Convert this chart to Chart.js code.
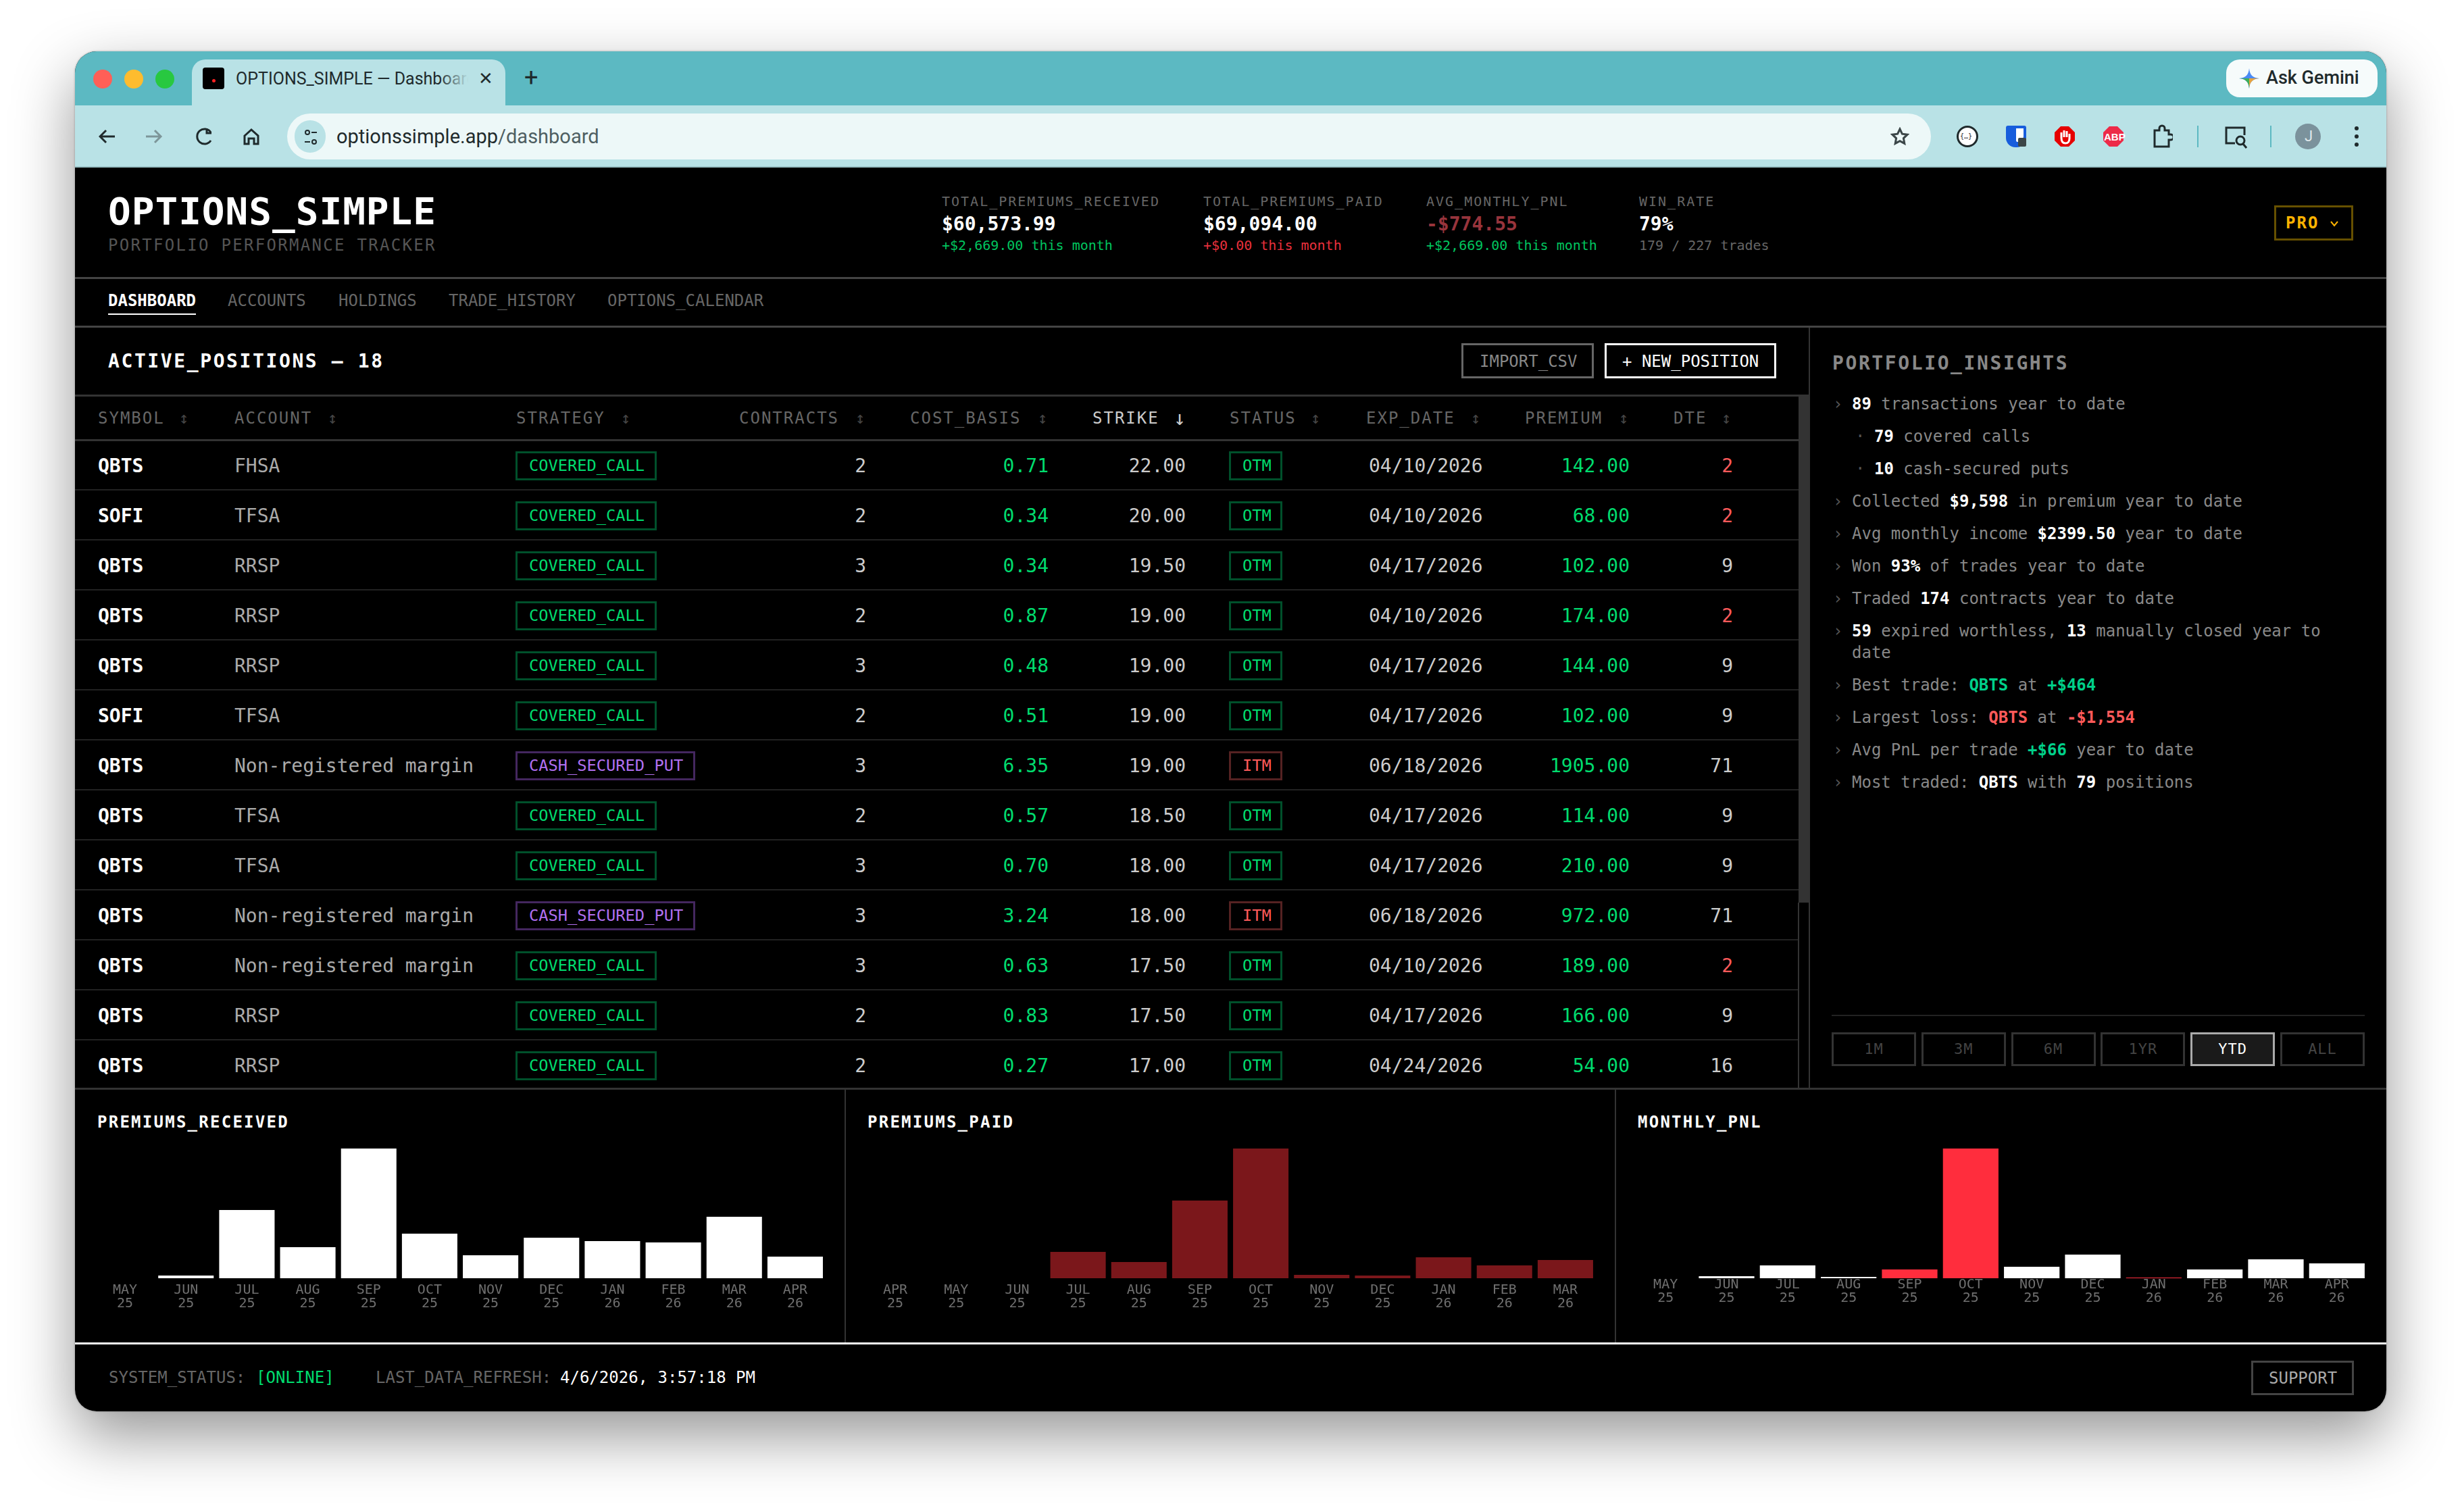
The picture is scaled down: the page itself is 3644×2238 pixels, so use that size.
<!DOCTYPE html>
<html>
<head>
<meta charset="utf-8">
<title>OPTIONS_SIMPLE</title>
<script src="https://cdn.jsdelivr.net/npm/chart.js@4"></script>
<style>
  html, body { margin: 0; width: 3644px; height: 2238px; background: #fff; overflow: hidden; }
  .win { position: absolute; left: 111px; top: 76px; width: 3421px; height: 2013px; border-radius: 32px; overflow: hidden; background: #000; }
  .shadow { position: absolute; left: 111px; top: 76px; width: 3421px; height: 2013px; border-radius: 32px; box-shadow: 0 36px 90px rgba(0,0,0,.42), 0 0 3px rgba(0,0,0,.3); }
  .page { position: absolute; left: -111px; top: -76px; width: 3644px; height: 2238px; font-family: "DejaVu Sans Mono", monospace; color: #fff; }
  .box { position: absolute; box-sizing: border-box; }
  .t { position: absolute; white-space: pre; line-height: 1; transform: translateY(-50%); }
  .r { transform: translate(-100%, -50%); }
  .ui { font-family: Roboto, "Liberation Sans", sans-serif; color: #1f2a2c; }
  .ins { font-size: 24px; color: #888; }
  .ins .w { color: #fff; font-weight: 700; } .ins .gi { color: #00d08a; font-weight: 700; } .ins .ri { color: #ff5a5a; font-weight: 700; }
  .stat-l { font-size: 20px; letter-spacing: 2px; color: #666; }
  .stat-v { font-size: 28px; font-weight: 700; }
  .stat-s { font-size: 20px; }
  .nav { font-size: 24px; color: #666; top: 445px; }
  .th { font-size: 24px; letter-spacing: 2px; color: #666; top: 619px; }
  .sort { font-size: 24px; color: #444; top: 619px; }
  .td { font-size: 28px; color: #ccc; }
  .td.w { color: #fff; font-weight: 700; }
  .td.g { color: #00dc6e; }
  .td.rd { color: #ff5a5a; }
  .badge { position: absolute; box-sizing: border-box; height: 43px; border: 3px solid; font-size: 23.7px; line-height: 37px; padding: 0 15px 0 17px; white-space: pre; }
  .per { position: absolute; box-sizing: border-box; top: 1528px; height: 50px; width: 125px; border: 3px solid #333; color: #444; font-size: 22px; letter-spacing: 1px; line-height: 44px; text-align: center; }
  .ptitle { font-size: 24px; font-weight: 700; letter-spacing: 2.25px; top: 1661px; }
  canvas { position: absolute; }
  svg { position: absolute; }
</style>
</head>
<body>
<div class="shadow"></div>
<div class="win"><div class="page" id="page">

  <!-- browser chrome -->
  <div class="box" style="left:111px;top:76px;width:3421px;height:80px;background:#5cb9c2"></div>
  <div class="box" style="left:111px;top:156px;width:3421px;height:92px;background:#b9e2e6;border-bottom:2px solid #9cc4c8"></div>
  <div class="box" style="left:284px;top:88px;width:464px;height:68px;background:#b9e2e6;border-radius:20px 20px 0 0"></div>
  <div class="box" style="left:138px;top:103px;width:28px;height:28px;border-radius:50%;background:#ff5f57"></div>
  <div class="box" style="left:184px;top:103px;width:28px;height:28px;border-radius:50%;background:#febc2e"></div>
  <div class="box" style="left:230px;top:103px;width:28px;height:28px;border-radius:50%;background:#28c840"></div>
  <div class="box" style="left:300px;top:100px;width:32px;height:32px;background:#000;border-radius:4px"></div>
  <div class="box" style="left:314px;top:117px;width:5px;height:5px;background:#f22;border-radius:50%"></div>
  <div class="t ui" style="left:349px;top:116px;font-size:25px">OPTIONS_SIMPLE — Dashboard</div>
  <div class="box" style="left:650px;top:96px;width:62px;height:44px;background:linear-gradient(90deg, rgba(185,226,230,0), #b9e2e6 70%)"></div>
  <div class="t ui" style="left:708px;top:116px;font-size:26px">✕</div>
  <div class="t ui" style="left:776px;top:115px;font-size:36px">+</div>
  <div class="box" style="left:3295px;top:88px;width:224px;height:56px;background:#f6fbfb;border-radius:20px"></div>
  <svg style="left:3313px;top:100px" width="32" height="32" viewBox="0 0 32 32"><path d="M16 1 C17 11 21 15 31 16 C21 17 17 21 16 31 C15 21 11 17 1 16 C11 15 15 11 16 1Z" fill="#4a8af4"/><path d="M16 16 L31 16 C21 17 17 21 16 31Z" fill="#e8a33d"/><path d="M16 16 L16 31 C15 21 11 17 1 16Z" fill="#3fae5a"/></svg>
  <div class="t ui" style="left:3354px;top:115px;font-size:27px;font-weight:500">Ask Gemini</div>
  <div class="box" style="left:425px;top:168px;width:2433px;height:68px;background:#edf8f8;border-radius:34px"></div>
  <div class="box" style="left:436px;top:178px;width:46px;height:48px;background:#b9e2e6;border-radius:24px"></div>
  <svg style="left:146px;top:186px" width="240" height="32" viewBox="0 0 240 32" fill="none" stroke="#1f2a2c" stroke-width="3">
    <path d="M24 16H2M11 7L2 16L11 25"/>
    <path d="M70 16H92M83 7L92 16L83 25" stroke="#7d9699"/>
    <path d="M166 10A11 11 0 1 0 166 22M160 4V11H167"/>
    <path d="M216 15L226 6L236 15V27H230V19H222V27H216Z"/>
  </svg>
  <svg style="left:450px;top:190px" width="20" height="26" viewBox="0 0 20 26" fill="none" stroke="#1f2a2c" stroke-width="2"><circle cx="5" cy="6" r="3"/><path d="M11 6H19M1 20H9"/><circle cx="15" cy="20" r="3"/></svg>
  <div class="t ui" style="left:498px;top:202px;font-size:29px">optionssimple.app<span style="color:#4f5f62">/dashboard</span></div>
  <svg style="left:2798px;top:188px" width="28" height="28" viewBox="0 0 28 28" fill="none" stroke="#3b4648" stroke-width="3"><path d="M14 3L17.4 10.2L25 11.2L19.4 16.6L20.8 24.4L14 20.6L7.2 24.4L8.6 16.6L3 11.2L10.6 10.2Z"/></svg>
  <!-- extension icons -->
  <div class="box" style="left:2896px;top:186px;width:32px;height:32px;border-radius:50%;border:3px solid #1f2a2c;background:#fff"></div>
  <div class="t" style="left:2901px;top:202px;font-size:10px;color:#1f2a2c">{…}</div>
  <div class="box" style="left:2969px;top:186px;width:30px;height:32px;background:#175ddc;border-radius:3px 3px 14px 14px"></div>
  <div class="box" style="left:2984px;top:190px;width:11px;height:20px;background:#fff;border-radius:0 0 8px 2px"></div>
  <div class="box" style="left:2987px;top:204px;width:12px;height:13px;background:#3b4648;border-radius:2px"></div>
  <svg style="left:3040px;top:186px" width="32" height="32" viewBox="0 0 32 32"><path d="M10 1H22L31 10V22L22 31H10L1 22V10Z" fill="#e60000"/><path d="M11 18V10M15 17V7M19 17V8M23 19V12M11 18C11 24 14 26 17 26C21 26 23 23 23 19" fill="none" stroke="#fff" stroke-width="3"/></svg>
  <svg style="left:3112px;top:186px" width="32" height="32" viewBox="0 0 32 32"><path d="M10 1H22L31 10V22L22 31H10L1 22V10Z" fill="#ed2a48"/></svg>
  <div class="t" style="left:3114px;top:202px;font-family:'Liberation Sans';font-size:15px;font-weight:700;color:#fff">ABP</div>
  <svg style="left:3186px;top:184px" width="30" height="36" viewBox="0 0 30 36" fill="none" stroke="#1f2a2c" stroke-width="3"><path d="M3 9H10V6A4 4 0 0 1 18 6V9H24V15H27A3 3 0 0 1 27 23H24V33H3Z"/></svg>
  <div class="box" style="left:3252px;top:186px;width:2px;height:32px;background:#5cb9c2"></div>
  <svg style="left:3292px;top:186px" width="34" height="34" viewBox="0 0 34 34" fill="none" stroke="#1f2a2c" stroke-width="3"><path d="M16 26H3V3H30V14"/><circle cx="24" cy="22" r="6"/><path d="M28 27L33 33"/></svg>
  <div class="box" style="left:3360px;top:186px;width:2px;height:32px;background:#5cb9c2"></div>
  <div class="box" style="left:3397px;top:183px;width:38px;height:38px;border-radius:50%;background:#7b929c"></div>
  <div class="t ui" style="left:3411px;top:202px;font-size:22px;color:#dfe8ea">J</div>
  <svg style="left:3484px;top:186px" width="8" height="32" viewBox="0 0 8 32" fill="#1f2a2c"><circle cx="4" cy="4" r="3"/><circle cx="4" cy="16" r="3"/><circle cx="4" cy="28" r="3"/></svg>

  <!-- app header -->
  <div class="t" style="left:160px;top:313px;font-size:56px;font-weight:700;letter-spacing:1px">OPTIONS_SIMPLE</div>
  <div class="t" style="left:160px;top:363px;font-size:24px;letter-spacing:2.3px;color:#555">PORTFOLIO PERFORMANCE TRACKER</div>

  <div class="t stat-l" style="left:1394px;top:298px">TOTAL_PREMIUMS_RECEIVED</div>
  <div class="t stat-v" style="left:1394px;top:332px">$60,573.99</div>
  <div class="t stat-s" style="left:1394px;top:363px;color:#00c45f">+$2,669.00 this month</div>

  <div class="t stat-l" style="left:1781px;top:298px">TOTAL_PREMIUMS_PAID</div>
  <div class="t stat-v" style="left:1781px;top:332px">$69,094.00</div>
  <div class="t stat-s" style="left:1781px;top:363px;color:#e8303c">+$0.00 this month</div>

  <div class="t stat-l" style="left:2111px;top:298px">AVG_MONTHLY_PNL</div>
  <div class="t stat-v" style="left:2111px;top:332px;color:#98343c">-$774.55</div>
  <div class="t stat-s" style="left:2111px;top:363px;color:#00c45f">+$2,669.00 this month</div>

  <div class="t stat-l" style="left:2426px;top:298px">WIN_RATE</div>
  <div class="t stat-v" style="left:2426px;top:332px">79%</div>
  <div class="t stat-s" style="left:2426px;top:363px;color:#666">179 / 227 trades</div>

  <div class="box" style="left:3366px;top:304px;width:117px;height:52px;border:3px solid #665000"></div>
  <div class="t" style="left:3383px;top:330px;font-size:24px;font-weight:700;letter-spacing:2px;color:#ffb300">PRO</div>
  <svg style="left:3449px;top:326px" width="12" height="10" viewBox="0 0 12 10" fill="none" stroke="#ffb300" stroke-width="2"><path d="M1 2L6 8L11 2"/></svg>

  <!-- nav -->
  <div class="box" style="left:111px;top:410px;width:3421px;height:3px;background:#444"></div>
  <div class="t nav" style="left:160px;color:#fff;font-weight:700">DASHBOARD</div>
  <div class="t nav" style="left:337px">ACCOUNTS</div>
  <div class="t nav" style="left:501px">HOLDINGS</div>
  <div class="t nav" style="left:664px">TRADE_HISTORY</div>
  <div class="t nav" style="left:899px">OPTIONS_CALENDAR</div>
  <div class="box" style="left:160px;top:464px;width:130px;height:2px;background:#fff"></div>
  <div class="box" style="left:111px;top:482px;width:3421px;height:3px;background:#444"></div>

  <!-- positions head -->
  <div class="t" style="left:160px;top:535px;font-size:28px;font-weight:700;letter-spacing:2.6px">ACTIVE_POSITIONS — 18</div>
  <div class="box" style="left:2163px;top:508px;width:196px;height:52px;border:3px solid #666"></div>
  <div class="t" style="left:2190px;top:535px;font-size:24px;color:#888">IMPORT_CSV</div>
  <div class="box" style="left:2375px;top:508px;width:254px;height:52px;border:3px solid #fff"></div>
  <div class="t" style="left:2401px;top:535px;font-size:24px;color:#fff">+ NEW_POSITION</div>
  <div class="box" style="left:111px;top:584px;width:2567px;height:3px;background:#333"></div>

  <div class="t th" style="left:145px">SYMBOL</div><div class="t sort" style="left:265px">↕</div>
  <div class="t th" style="left:347px">ACCOUNT</div><div class="t sort" style="left:485px">↕</div>
  <div class="t th" style="left:764px">STRATEGY</div><div class="t sort" style="left:919px">↕</div>
  <div class="t th" style="left:1094px">CONTRACTS</div><div class="t sort" style="left:1266px">↕</div>
  <div class="t th" style="left:1347px">COST_BASIS</div><div class="t sort" style="left:1536px">↕</div>
  <div class="t th" style="left:1617px;color:#ccc">STRIKE</div><div class="t sort" style="left:1737px;color:#ccc;font-size:30px">↓</div>
  <div class="t th" style="left:1820px">STATUS</div><div class="t sort" style="left:1940px">↕</div>
  <div class="t th" style="left:2022px">EXP_DATE</div><div class="t sort" style="left:2177px">↕</div>
  <div class="t th" style="left:2257px">PREMIUM</div><div class="t sort" style="left:2396px">↕</div>
  <div class="t th" style="left:2477px">DTE</div><div class="t sort" style="left:2548px">↕</div>
  <div class="box" style="left:111px;top:650px;width:2551px;height:3px;background:#333"></div>

  <div class="box" id="rows" style="left:0;top:653px;width:2662px;height:958px;overflow:hidden"></div>

  <!-- scrollbar -->
  <div class="box" style="left:2662px;top:585px;width:17px;height:751px;background:#333"></div>
  <div class="box" style="left:2661px;top:1336px;width:2px;height:275px;background:#333"></div>
  <div class="box" style="left:2677px;top:485px;width:2px;height:1126px;background:#333"></div>

  <!-- insights -->
  <div class="t" style="left:2712px;top:538px;font-size:28px;font-weight:700;letter-spacing:2.6px;color:#888">PORTFOLIO_INSIGHTS</div>
  <div id="insights"></div>
  <div class="box" style="left:2711px;top:1502px;width:789px;height:2px;background:#222"></div>
  <div id="periods"></div>

  <!-- bottom panels -->
  <div class="box" style="left:111px;top:1610px;width:3421px;height:3px;background:#333"></div>
  <div class="box" style="left:1250px;top:1613px;width:2px;height:375px;background:#333"></div>
  <div class="box" style="left:2390px;top:1613px;width:2px;height:375px;background:#333"></div>
  <div class="t ptitle" style="left:144px">PREMIUMS_RECEIVED</div>
  <div class="t ptitle" style="left:1284px">PREMIUMS_PAID</div>
  <div class="t ptitle" style="left:2424px">MONTHLY_PNL</div>
  <canvas id="received-chart" width="1082" height="248" style="left:140px;top:1700px"></canvas>
  <canvas id="paid-chart" width="1082" height="248" style="left:1280px;top:1700px"></canvas>
  <canvas id="pnl-chart" width="1084" height="232" style="left:2420px;top:1700px"></canvas>

  <!-- footer -->
  <div class="box" style="left:111px;top:1987px;width:3421px;height:3px;background:#fff"></div>
  <div class="t" style="left:161px;top:2039px;font-size:24px;color:#666">SYSTEM_STATUS:</div>
  <div class="t" style="left:379px;top:2039px;font-size:24px;color:#00dc6e">[ONLINE]</div>
  <div class="t" style="left:556px;top:2039px;font-size:24px;color:#666">LAST_DATA_REFRESH:</div>
  <div class="t" style="left:829px;top:2039px;font-size:24px;color:#fff">4/6/2026, 3:57:18 PM</div>
  <div class="box" style="left:3332px;top:2014px;width:152px;height:51px;border:3px solid #444"></div>
  <div class="t" style="left:3358px;top:2040px;font-size:24px;color:#aaa">SUPPORT</div>
</div></div>

<script>
// chart data
const receivedMonths = ['MAY 25', 'JUN 25', 'JUL 25', 'AUG 25', 'SEP 25', 'OCT 25', 'NOV 25', 'DEC 25', 'JAN 26', 'FEB 26', 'MAR 26', 'APR 26'];
const receivedValues = [0, 334, 8423, 3836, 16013, 5504, 2836, 5004, 4587, 4420, 7589, 2669];
const paidMonths = ['APR 25', 'MAY 25', 'JUN 25', 'JUL 25', 'AUG 25', 'SEP 25', 'OCT 25', 'NOV 25', 'DEC 25', 'JAN 26', 'FEB 26', 'MAR 26'];
const paidValues = [0, 0, 0, 5910, 3640, 17420, 29090, 760, 610, 4700, 2880, 4090];
const pnlMonths = ['MAY 25', 'JUN 25', 'JUL 25', 'AUG 25', 'SEP 25', 'OCT 25', 'NOV 25', 'DEC 25', 'JAN 26', 'FEB 26', 'MAR 26', 'APR 26'];
const pnlValues = [0, 363, 2300, 242, -1575, -23270, 2060, 4240, -121, 1575, 3390, 2669];

// table data
const symbols = ['QBTS', 'SOFI', 'QBTS', 'QBTS', 'QBTS', 'SOFI', 'QBTS', 'QBTS', 'QBTS', 'QBTS', 'QBTS', 'QBTS', 'QBTS'];
const accounts = ['FHSA', 'TFSA', 'RRSP', 'RRSP', 'RRSP', 'TFSA', 'Non-registered margin', 'TFSA', 'TFSA', 'Non-registered margin', 'Non-registered margin', 'RRSP', 'RRSP'];
const strategies = ['COVERED_CALL', 'COVERED_CALL', 'COVERED_CALL', 'COVERED_CALL', 'COVERED_CALL', 'COVERED_CALL', 'CASH_SECURED_PUT', 'COVERED_CALL', 'COVERED_CALL', 'CASH_SECURED_PUT', 'COVERED_CALL', 'COVERED_CALL', 'COVERED_CALL'];
const contracts = [2, 2, 3, 2, 3, 2, 3, 2, 3, 3, 3, 2, 2];
const costBasis = ['0.71', '0.34', '0.34', '0.87', '0.48', '0.51', '6.35', '0.57', '0.70', '3.24', '0.63', '0.83', '0.27'];
const strikes = ['22.00', '20.00', '19.50', '19.00', '19.00', '19.00', '19.00', '18.50', '18.00', '18.00', '17.50', '17.50', '17.00'];
const statuses = ['OTM', 'OTM', 'OTM', 'OTM', 'OTM', 'OTM', 'ITM', 'OTM', 'OTM', 'ITM', 'OTM', 'OTM', 'OTM'];
const expDates = ['04/10/2026', '04/10/2026', '04/17/2026', '04/10/2026', '04/17/2026', '04/17/2026', '06/18/2026', '04/17/2026', '04/17/2026', '06/18/2026', '04/10/2026', '04/17/2026', '04/24/2026'];
const premiums = ['142.00', '68.00', '102.00', '174.00', '144.00', '102.00', '1905.00', '114.00', '210.00', '972.00', '189.00', '166.00', '54.00'];
const dte = [2, 2, 9, 2, 9, 9, 71, 9, 9, 71, 2, 9, 16];

const insightLines = [
  '<b class="w">89</b> transactions year to date',
  '<b class="w">79</b> covered calls',
  '<b class="w">10</b> cash-secured puts',
  'Collected <b class="w">$9,598</b> in premium year to date',
  'Avg monthly income <b class="w">$2399.50</b> year to date',
  'Won <b class="w">93%</b> of trades year to date',
  'Traded <b class="w">174</b> contracts year to date',
  '<b class="w">59</b> expired worthless, <b class="w">13</b> manually closed year to',
  'date',
  'Best trade: <b class="gi">QBTS</b> at <b class="gi">+$464</b>',
  'Largest loss: <b class="ri">QBTS</b> at <b class="ri">-$1,554</b>',
  'Avg PnL per trade <b class="gi">+$66</b> year to date',
  'Most traded: <b class="w">QBTS</b> with <b class="w">79</b> positions',
];
const periods = ['1M', '3M', '6M', '1YR', 'YTD', 'ALL'];

// table rows
var rowsHtml = '';
symbols.forEach(function (sym, i) {
  var top = i * 74;
  var cy = 37;
  var put = strategies[i] === 'CASH_SECURED_PUT';
  var itm = statuses[i] === 'ITM';
  rowsHtml += '<div class="box" style="left:111px;top:' + top + 'px;width:2551px;height:74px">'
    + '<div class="t td w" style="left:34px;top:' + cy + 'px">' + sym + '</div>'
    + '<div class="t td" style="left:236px;top:' + cy + 'px;color:#aaa">' + accounts[i] + '</div>'
    + '<div class="badge" style="left:652px;top:15px;color:' + (put ? '#b070f0' : '#00dc6e') + ';border-color:' + (put ? '#44275f' : '#00502b') + '">' + strategies[i] + '</div>'
    + '<div class="t td r" style="left:1171px;top:' + cy + 'px">' + contracts[i] + '</div>'
    + '<div class="t td r g" style="left:1441px;top:' + cy + 'px">' + costBasis[i] + '</div>'
    + '<div class="t td r" style="left:1644px;top:' + cy + 'px">' + strikes[i] + '</div>'
    + '<div class="badge" style="left:1708px;top:15px;width:79px;color:' + (itm ? '#ff5a5a' : '#00dc6e') + ';border-color:' + (itm ? '#552222' : '#00502b') + '">' + statuses[i] + '</div>'
    + '<div class="t td" style="left:1915px;top:' + cy + 'px">' + expDates[i] + '</div>'
    + '<div class="t td r g" style="left:2301px;top:' + cy + 'px">' + premiums[i] + '</div>'
    + '<div class="t td r' + (dte[i] === 2 ? ' rd' : '') + '" style="left:2454px;top:' + cy + 'px">' + dte[i] + '</div>'
    + '<div class="box" style="left:0;top:71px;width:2551px;height:2px;background:#222"></div>'
    + '</div>';
});
document.getElementById('rows').innerHTML = rowsHtml;

// insights, 48px apart except the wrapped line
const insightY = [598, 646, 694, 742, 790, 838, 886, 934, 966, 1014, 1062, 1110, 1158];
var insightsHtml = '';
insightLines.forEach(function (line, i) {
  var sub = i === 1 || i === 2;
  var wrapped = i === 8;
  if (!wrapped) {
    insightsHtml += '<div class="t ins" style="left:' + (sub ? 2746 : 2713) + 'px;top:' + insightY[i] + 'px;color:#555">' + (sub ? '·' : '›') + '</div>';
  }
  insightsHtml += '<div class="t ins" style="left:' + (sub ? 2774 : 2741) + 'px;top:' + insightY[i] + 'px">' + line + '</div>';
});
document.getElementById('insights').innerHTML = insightsHtml;

var periodHtml = '';
periods.forEach(function (p, i) {
  var on = p === 'YTD';
  periodHtml += '<div class="per" style="left:' + (2711 + i * 132.8) + 'px' + (on ? ';background:#1a1a1a;border-color:#aaa;color:#fff' : '') + '">' + p + '</div>';
});
document.getElementById('periods').innerHTML = periodHtml;

// bar charts
function drawBars(id, months, values, colors, tickPadding) {
  new Chart(document.getElementById(id), {
    type: 'bar',
    data: {
      labels: months.map(function (m) { return m.split(' '); }),
      datasets: [{ data: values, backgroundColor: colors, barPercentage: 1, categoryPercentage: 0.91 }],
    },
    options: {
      responsive: false,
      animation: false,
      layout: { padding: 0 },
      plugins: { legend: { display: false }, tooltip: { enabled: false } },
      scales: {
        x: {
          grid: { display: false, drawTicks: false },
          border: { display: false },
          ticks: {
            color: '#6f6f6f',
            padding: tickPadding,
            autoSkip: false,
            maxRotation: 0,
            font: { family: '"DejaVu Sans Mono"', size: 20, lineHeight: 1 },
          },
        },
        y: { display: false, min: 0, max: Math.max.apply(null, values) },
      },
    },
  });
}

drawBars('received-chart', receivedMonths, receivedValues, '#ffffff', 8);
drawBars('paid-chart', paidMonths, paidValues, '#7b171b', 8);
// pnl bars all rise from the baseline, losses in red
drawBars('pnl-chart', pnlMonths, pnlValues.map(Math.abs), pnlValues.map(function (v) { return v < 0 ? '#ff2d3d' : '#ffffff'; }), 0);
</script>
</body>
</html>
